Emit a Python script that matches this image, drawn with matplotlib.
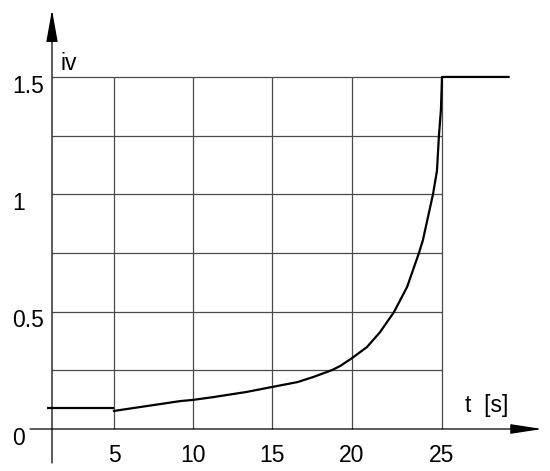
import numpy as np
import matplotlib
matplotlib.use("Agg")
import matplotlib.pyplot as plt
import matplotlib.transforms as mtransforms

plt.rcParams['font.family'] = ['Liberation Sans', 'DejaVu Sans']

# data
t_flat = [-0.4, 5]
iv_flat = [0.089, 0.089]

t_curve = [5, 9.2, 10, 11.3, 13.4, 15, 16.6, 17.6, 18.75, 19.25, 20, 20.83,
           21.56, 22.33, 23.06, 23.72, 23.94, 24.22, 24.5, 24.72, 24.83,
           24.94, 25, 28.7]
iv_curve = [0.077, 0.119, 0.124, 0.136, 0.158, 0.179, 0.200, 0.222, 0.251,
            0.268, 0.302, 0.349, 0.413, 0.498, 0.605, 0.75, 0.805, 0.903,
            1.0, 1.10, 1.25, 1.36, 1.5, 1.5]

x_ticks = [5, 10, 15, 20, 25]
x_ticklabels = ['5', '10', '15', '20', '25']
y_ticks = [0, 0.5, 1, 1.5]
y_ticklabels = ['0', '0.5', '1', '1.5']
y_grid = [0.25, 0.5, 0.75, 1.0, 1.25, 1.5]

# the hand drawn grid is not evenly spaced, so the t axis is piecewise linear
T_KNOTS = [-10, 0, 5, 10, 15, 20, 25, 40]
PX_KNOTS = [-72, 52, 114, 193, 272, 352, 442, 712]


def fwd(t):
    return np.interp(t, T_KNOTS, PX_KNOTS)


def inv(p):
    return np.interp(p, PX_KNOTS, T_KNOTS)


fig = plt.figure(figsize=(5.5, 4.71), dpi=100)
ax = fig.add_axes([0, 0, 1, 1])
ax.set_xscale('function', functions=(fwd, inv))
ax.set_xlim(inv(0), inv(550))
ax.set_ylim(-42 / 234.7, 429 / 234.7)
ax.axis('off')

grid_col = '#4a4a4a'
ax.hlines(y_grid, 0, 25, colors=grid_col, lw=0.9)
ax.vlines(x_ticks, 0, 1.5, colors=grid_col, lw=0.9)

# axes with arrow heads
ax.annotate('', xy=(30.56, 0), xytext=(-1.77, 0),
            arrowprops=dict(arrowstyle='-|>,head_length=1.95,head_width=0.3',
                            mutation_scale=10, color='black', lw=0.9,
                            shrinkA=0, shrinkB=0))
ax.annotate('', xy=(0, 1.785), xytext=(0, -0.145),
            arrowprops=dict(arrowstyle='-|>,head_length=2.0,head_width=0.36',
                            mutation_scale=10, color='black', lw=0.9,
                            shrinkA=0, shrinkB=0))

# the curve
ax.plot(t_flat, iv_flat, color='black', lw=1.6, solid_capstyle='butt')
ax.plot(t_curve, iv_curve, color='black', lw=1.6, solid_joinstyle='round')

fs = 16.5
ytrans = mtransforms.blended_transform_factory(ax.transAxes, ax.transData)
for v, lab in zip(y_ticks, y_ticklabels):
    ax.text(12 / 550, v + 0.01, lab, transform=ytrans, ha='left', va='top',
            fontsize=fs)

xtrans = mtransforms.blended_transform_factory(ax.transData, ax.transAxes)
for v, lab in zip(x_ticks, x_ticklabels):
    ax.text(v, 1 - 444 / 471, lab, transform=xtrans, ha='center', va='top',
            fontsize=fs)

ax.text(0.65, 1.53, 'iv', ha='left', va='baseline', fontsize=fs)
ax.text(26.28, 0.072, 't  [s]', ha='left', va='baseline', fontsize=fs)

fig.savefig('out.png', dpi=100)
